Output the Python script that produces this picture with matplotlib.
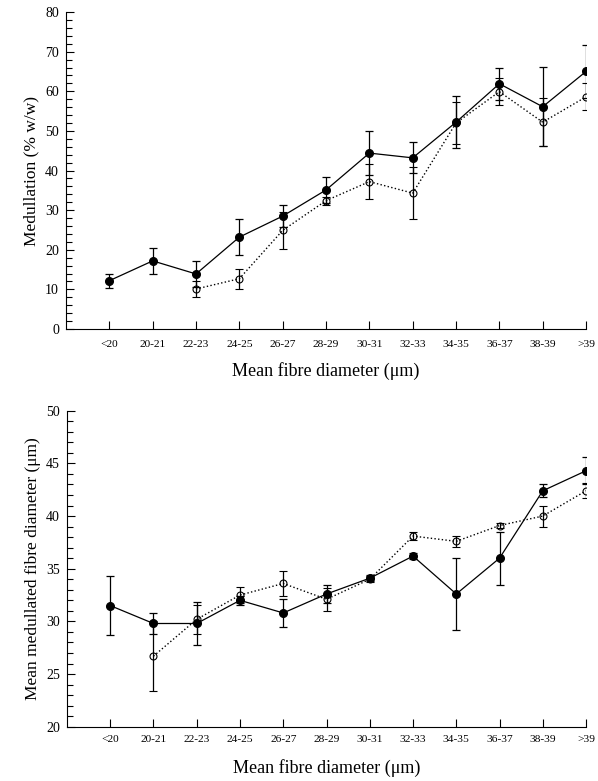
import matplotlib
matplotlib.use("Agg")
import matplotlib.pyplot as plt
import numpy as np
from matplotlib.ticker import MultipleLocator

plt.rcParams['font.family'] = ['Liberation Serif', 'DejaVu Serif']

categories = ['<20', '20-21', '22-23', '24-25', '26-27', '28-29', '30-31',
              '32-33', '34-35', '36-37', '38-39', '>39']

# top panel: medullation (% w/w)
med_filled = [12.2, 17.2, 13.9, 23.2, 28.5, 35.1, 44.4, 43.2, 52.2, 61.9, 56.1, 65.0]
med_filled_err = [1.8, 3.3, 3.2, 4.6, 2.8, 3.2, 5.6, 3.9, 6.5, 4.0, 10.0, 6.8]
med_open = [np.nan, np.nan, 10.1, 12.7, 24.9, 32.4, 37.2, 34.3, 52.0, 59.9, 52.2, 58.6]
med_open_err = [np.nan, np.nan, 2.0, 2.5, 4.6, 1.0, 4.4, 6.5, 5.3, 3.4, 6.0, 3.4]

# bottom panel: mean medullated fibre diameter (um)
dia_filled = [31.5, 29.8, 29.8, 32.0, 30.8, 32.6, 34.1, 36.2, 32.6, 36.0, 42.4, 44.3]
dia_filled_err = [2.8, 1.0, 2.0, 0.4, 1.3, 0.9, 0.3, 0.3, 3.4, 2.5, 0.6, 1.3]
dia_open = [np.nan, 26.7, 30.2, 32.5, 33.6, 32.1, 34.0, 38.1, 37.6, 39.1, 40.0, 42.4]
dia_open_err = [np.nan, 3.3, 1.4, 0.8, 1.2, 1.1, 0.3, 0.4, 0.5, 0.2, 1.0, 0.7]


def draw_panel(ax, filled, filled_err, opened, opened_err):
    x = np.arange(len(categories))
    ax.errorbar(x, filled, yerr=filled_err, fmt='-o', color='black',
                markerfacecolor='black', markersize=5.5, linewidth=0.9,
                elinewidth=0.9, capsize=3, capthick=0.9, zorder=3)
    ax.errorbar(x, opened, yerr=opened_err, fmt='o', linestyle=':',
                color='black', markerfacecolor='none', markersize=5,
                markeredgewidth=0.8, linewidth=1.0, elinewidth=0.9,
                capsize=3, capthick=0.9, zorder=2)
    ax.set_xlim(-1, len(categories) - 1)
    ax.set_xticks(x)
    ax.set_xticklabels(categories)
    ax.spines['top'].set_visible(False)
    ax.spines['right'].set_visible(False)
    ax.spines['left'].set_linewidth(0.8)
    ax.spines['bottom'].set_linewidth(0.8)
    ax.tick_params(axis='y', which='major', direction='in', length=6,
                   width=0.8, labelsize=10, pad=5)
    ax.tick_params(axis='y', which='minor', direction='in', length=4, width=0.8)
    ax.tick_params(axis='x', which='major', direction='in', length=6,
                   width=0.8, labelsize=8.2)


fig = plt.figure(figsize=(5.98, 7.81), dpi=100)

ax1 = fig.add_axes([0.1104, 0.5787, 0.8696, 0.4059])
draw_panel(ax1, med_filled, med_filled_err, med_open, med_open_err)
ax1.set_ylim(0, 80)
ax1.yaxis.set_major_locator(MultipleLocator(10))
ax1.yaxis.set_minor_locator(MultipleLocator(2))
ax1.tick_params(axis='x', pad=8)
ax1.set_xlabel('Mean fibre diameter (\u03bcm)', fontsize=13, labelpad=9)
ax1.set_ylabel('Medullation (% w/w)', fontsize=12.5, labelpad=4)

ax2 = fig.add_axes([0.112, 0.0695, 0.868, 0.4046])
draw_panel(ax2, dia_filled, dia_filled_err, dia_open, dia_open_err)
ax2.set_ylim(20, 50)
ax2.yaxis.set_major_locator(MultipleLocator(5))
ax2.yaxis.set_minor_locator(MultipleLocator(1))
ax2.tick_params(axis='x', pad=6)
ax2.set_xlabel('Mean fibre diameter (\u03bcm)', fontsize=13, labelpad=11)
ax2.set_ylabel('Mean medullated fibre diameter (\u03bcm)', fontsize=12.5, labelpad=4)

fig.savefig('out.png', dpi=100)
